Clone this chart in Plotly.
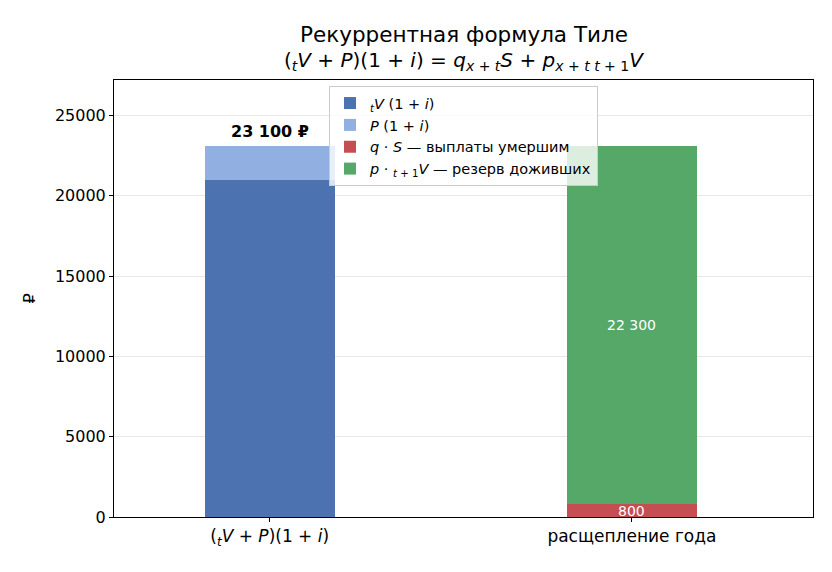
import plotly.graph_objects as go

categories = ["(<sub><i>t</i></sub><i>V</i> + <i>P</i>)(1 + <i>i</i>)", "расщепление года"]
cat_pos = [0, 1]
series_names = [
    "<sub><i>t</i></sub><i>V</i> (1 + <i>i</i>)",
    "<i>P</i> (1 + <i>i</i>)",
    "<i>q</i> · <i>S</i> — выплаты умершим",
    "<i>p</i> · <sub><i>t</i> + 1</sub><i>V</i> — резерв доживших",
]
left_values = [21000, 2100]      # tV(1+i), P(1+i)
right_values = [800, 22300]      # q*S, p*t+1V
colors = ["#4c72b0", "#91afe0", "#c44e52", "#55a868"]
yticks = [0, 5000, 10000, 15000, 20000, 25000]
title_lines = [
    "Рекуррентная формула Тиле",
    "(<sub><i>t</i></sub><i>V</i> + <i>P</i>)(1 + <i>i</i>) = "
    "<i>q</i><sub><i>x</i> + <i>t</i></sub><i>S</i> + <i>p</i><sub><i>x</i> + <i>t</i> <i>t</i> + 1</sub><i>V</i>",
]

FONT = "DejaVu Sans"
W = 0.36

def fmt(v):
    return f"{v:,}".replace(",", " ")

fig = go.Figure()
xs = [cat_pos[0], cat_pos[0], cat_pos[1], cat_pos[1]]
vals = left_values + right_values
for k in range(4):
    fig.add_trace(go.Bar(x=[xs[k]], y=[vals[k]], width=W, name=series_names[k],
                         legendgroup=f"g{k}",
                         marker=dict(color=colors[k], line=dict(width=0))))

# inside labels for right bar
cum = 0
for v in right_values:
    fig.add_annotation(x=cat_pos[1], y=cum + v / 2, text=fmt(v), showarrow=False,
                       font=dict(size=14, color="white", family=FONT))
    cum += v

total = sum(left_values)
fig.add_annotation(x=cat_pos[0], y=total, text="<b>" + fmt(total) + " ₽</b>", showarrow=False,
                   yanchor="bottom", yshift=3, font=dict(size=16, color="black", family=FONT))

# title lines
fig.add_annotation(x=0.5, xref="paper", y=1.103, yref="paper", text=title_lines[0],
                   showarrow=False, yanchor="middle", font=dict(size=21.5, family=FONT, color="black"))
fig.add_annotation(x=0.5, xref="paper", y=1.0435, yref="paper", text=title_lines[1],
                   showarrow=False, yanchor="middle", font=dict(size=20, family=FONT, color="black"))

fig.update_layout(
    width=832, height=572,
    margin=dict(l=114, r=19, t=80, b=55),
    barmode="stack",
    plot_bgcolor="white", paper_bgcolor="white",
    font=dict(family=FONT, size=16, color="black"),
    legend=dict(x=0.5, xanchor="center", y=0.986, yanchor="top",
                bgcolor="rgba(255,255,255,0.8)", bordercolor="#cccccc", borderwidth=1,
                font=dict(size=14.5, family=FONT), traceorder="normal",
                tracegroupgap=6),
    showlegend=True,
    bargap=0,
)
fig.update_xaxes(range=[-0.43, 1.5], tickvals=cat_pos, ticktext=categories,
                 showline=True, linecolor="black", linewidth=1, mirror=True,
                 ticks="outside", ticklen=4, tickcolor="black", showgrid=False, zeroline=False,
                 tickfont=dict(size=17))
fig.update_yaxes(range=[0, 27200], tickvals=yticks, ticktext=[str(v) for v in yticks],
                 showline=True, linecolor="black", linewidth=1, mirror=True,
                 ticks="outside", ticklen=4, tickcolor="black",
                 showgrid=True, gridcolor="#e8e8e8", gridwidth=1, zeroline=False,
                 title=dict(text="₽", font=dict(size=16), standoff=15),
                 tickfont=dict(size=16))
fig.write_html("out.html")
